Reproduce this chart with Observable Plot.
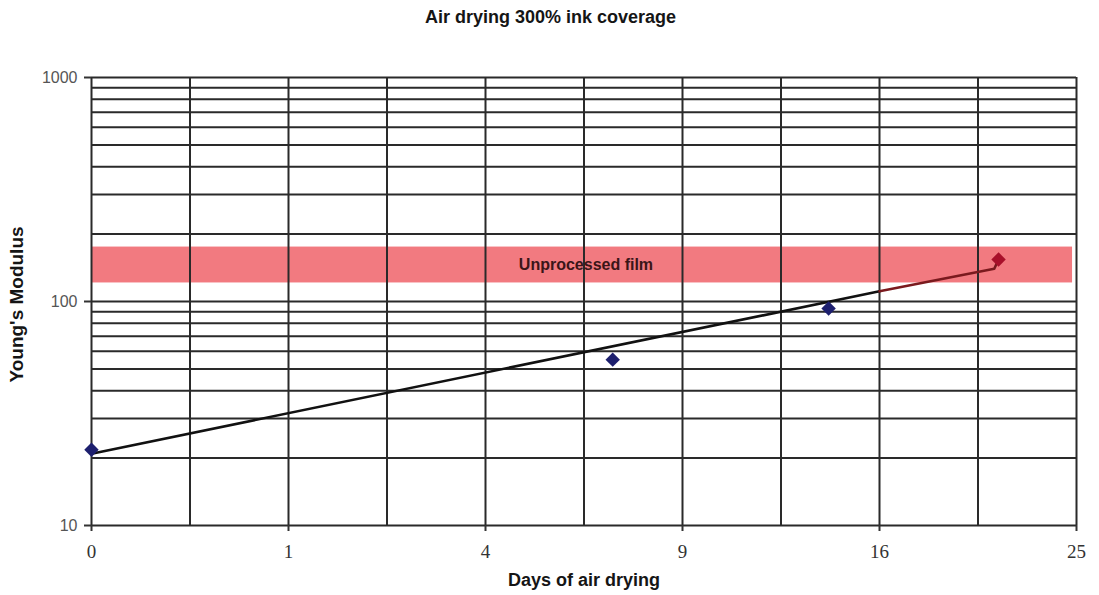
<!DOCTYPE html>
<html>
<head>
<meta charset="utf-8">
<script src="https://cdn.jsdelivr.net/npm/d3@7"></script>
<script src="https://cdn.jsdelivr.net/npm/@observablehq/plot@0.6"></script>
<style>
  body { margin: 0; background: #fff; width: 1099px; height: 595px; overflow: hidden; }
  #title { height: 35px; text-align: center; font: bold 18px "Liberation Sans", Arial, sans-serif; line-height: 35px; color: #151515; padding-left: 2px; }
</style>
</head>
<body>
<div id="title">Air drying 300% ink coverage</div>
<div id="chart"></div>
<script>
// Measured data (days of air drying vs Young's modulus)
const days = [0, 7, 14];
const modulus = [21.8, 55, 93];
const unprocessedDays = [21.2];
const unprocessedModulus = [154];

// Fitted trend line
const trendDays = [0, 16, 21, 21.2];
const trendModulus = [20.9, 111, 140, 154];

// Unprocessed film band
const bandLow = 121;
const bandHigh = 175;
const bandDays = [0, 24.8];

// Axis ticks and grid
const xTicks = [0, 1, 4, 9, 16, 25];
const xGrid = [0, 0.25, 1, 2.25, 4, 6.25, 9, 12.25, 16, 20.25, 25];
const yTicks = [10, 100, 1000];
const yGrid = [10,20,30,40,50,60,70,80,90,100,200,300,400,500,600,700,800,900,1000];

const pts = days.map((d, i) => ({d, m: modulus[i]}));
const red = unprocessedDays.map((d, i) => ({d, m: unprocessedModulus[i]}));
const trend = trendDays.map((d, i) => ({d, m: trendModulus[i]}));
const trendA = trend.slice(0, 2);
const trendB = trend.slice(1);

const sans = "'Liberation Sans', Arial, sans-serif";

const chart = Plot.plot({
  width: 1099,
  height: 560,
  marginTop: 42,
  marginBottom: 70,
  marginLeft: 91,
  marginRight: 23,
  style: {background: "#fff", overflow: "visible"},
  x: {type: "sqrt", domain: [0, 25]},
  y: {type: "log", domain: [10, 1000]},
  marks: [
    Plot.rect([{x1: bandDays[0], x2: bandDays[1], y1: bandLow, y2: bandHigh}], {
      x1: "x1", x2: "x2", y1: "y1", y2: "y2", fill: "#f27a80"
    }),
    Plot.ruleY(yGrid, {stroke: "#2a2a2a", strokeWidth: 2}),
    Plot.ruleX(xGrid, {stroke: "#2a2a2a", strokeWidth: 2}),
    Plot.axisX(xTicks, {
      ticks: xTicks, tickSize: 6, tickPadding: 13, tickFormat: d => String(d),
      fontFamily: "'Liberation Serif', 'Times New Roman', serif", fontSize: 19,
      fill: "#333", stroke: "#333", strokeWidth: 2, label: null
    }),
    Plot.axisY(yTicks, {
      ticks: yTicks, tickSize: 7, tickPadding: 7, tickFormat: d => String(d),
      fontFamily: sans, fontSize: 16,
      fill: "#555", stroke: "#333", strokeWidth: 2, label: null
    }),
    Plot.text(["Unprocessed film"], {
      x: 6.3, y: 145, text: d => d,
      fontFamily: sans, fontSize: 16, fontWeight: "bold",
      fill: "#3a1518"
    }),
    Plot.line(trendA, {x: "d", y: "m", stroke: "#111", strokeWidth: 2.6}),
    Plot.line(trendB, {x: "d", y: "m", stroke: "#7a1a1e", strokeWidth: 2.6}),
    Plot.dot(pts, {x: "d", y: "m", symbol: "diamond2", r: 6.5, fill: "#1d1f6e", stroke: "none"}),
    Plot.dot(red, {x: "d", y: "m", symbol: "diamond2", r: 6.5, fill: "#a8102a", stroke: "none"}),
    Plot.text(["Days of air drying"], {
      frameAnchor: "bottom", lineAnchor: "bottom", dy: 60, text: d => d,
      fontFamily: sans, fontSize: 18, fontWeight: "bold", fill: "#151515"
    }),
    Plot.text(["Young's Modulus"], {
      frameAnchor: "left", textAnchor: "middle", lineAnchor: "middle", dx: -75, dy: 3, rotate: -90, text: d => d,
      fontFamily: sans, fontSize: 19, fontWeight: "bold", fill: "#151515"
    })
  ]
});
document.getElementById("chart").appendChild(chart);
</script>
</body>
</html>
